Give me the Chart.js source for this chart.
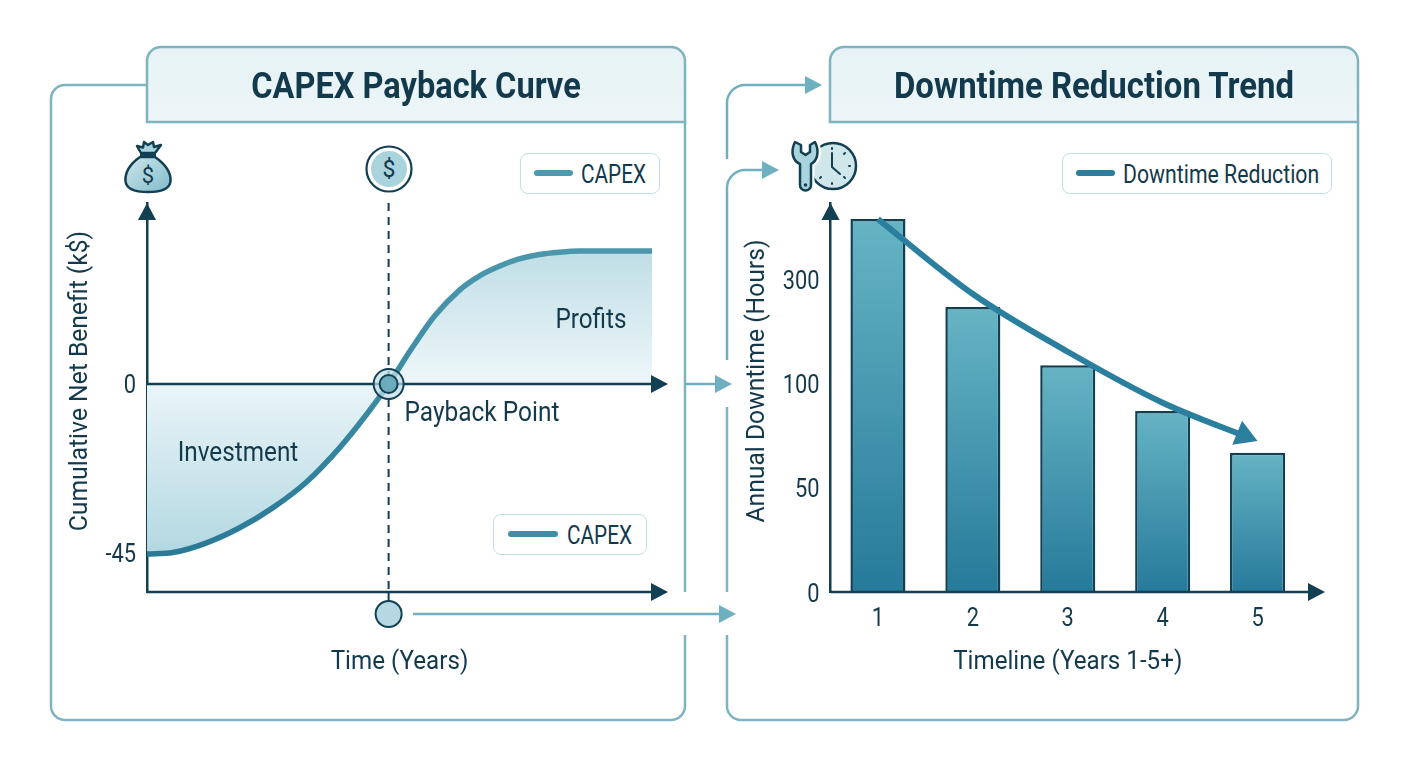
<!DOCTYPE html>
<html><head><meta charset="utf-8">
<script src="https://cdn.jsdelivr.net/npm/chart.js@4/dist/chart.umd.js"></script>
<style>
html,body{margin:0;padding:0;background:#fff;width:1408px;height:768px;overflow:hidden}
#stage{position:relative;width:1408px;height:768px;font-family:Roboto,sans-serif;color:#12394c}
svg,canvas{position:absolute;left:0;top:0}
.t{position:absolute;white-space:nowrap;transform:translate(-50%,-50%) scaleX(var(--sx,.9))}
.title{font-weight:700;font-size:37px;--sx:.88}
.note{font-size:27px}
.leg{position:absolute;box-sizing:border-box;height:41px;background:#fff;border:1.5px solid #c3dee4;border-radius:8px}
.leg i{position:absolute;top:16px;height:6px;border-radius:3px}
.leg span{position:absolute;top:50%;transform:translateY(-50%) scaleX(var(--sx,.83));transform-origin:left center;font-size:25px;white-space:nowrap}
</style></head><body><div id="stage">
<svg width="1408" height="768" viewBox="0 0 1408 768" fill="none">
 <defs>
  <linearGradient id="hd" x1="0" y1="0" x2="0" y2="1"><stop offset="0" stop-color="#e6f2f5"/><stop offset="1" stop-color="#edf6f8"/></linearGradient>
  <linearGradient id="bag" x1="0" y1="0" x2="1" y2="1"><stop offset="0" stop-color="#cfe6eb"/><stop offset="1" stop-color="#7fbccb"/></linearGradient>
 </defs>
 <g stroke="#7eb3bf" stroke-width="2.500">
  <path d="M147 85H65a14 14 0 0 0-14 14V706a14 14 0 0 0 14 14H671a14 14 0 0 0 14-14V635M685 592V122"/>
  <path d="M147 122V61a14 14 0 0 1 14-14H671a14 14 0 0 1 14 14V122H147Z" fill="url(#hd)"/>
  <path d="M727 407V592M727 635V706a14 14 0 0 0 14 14H1344a14 14 0 0 0 14-14V122"/>
  <path d="M830 122V61a14 14 0 0 1 14-14H1344a14 14 0 0 1 14 14V122H830Z" fill="url(#hd)"/>
 </g>
 <g stroke="#6fb0c0" stroke-width="2.500">
  <path d="M727 159V103a18 18 0 0 1 18-18H806"/>
  <path d="M727 360V188a18 18 0 0 1 18-18H762"/>
  <path d="M685 384H716"/>
  <path d="M413 614H720"/>
 </g>
 <g fill="#6fb0c0">
  <path d="M822 85L805 76V94Z"/><path d="M779 170L762 161V179Z"/><path d="M732 384L715 375V393Z"/><path d="M736 614L719 605V623Z"/>
 </g>
 <!-- money bag -->
 <g stroke="#123f52" stroke-width="2.500" stroke-linejoin="round">
  <path d="M140 157C130 164 125 173 125.500 181C126 189 135 192 148 192C161 192 170 189 170.500 181C171 173 165 164 155 157Z" fill="url(#bag)"/>
  <path d="M141 153L137 146L143 147.500L144 142L148 145L153 142L154 147L161 145L155 153Z" fill="#a9d3dd"/>
  <path d="M140 154.500H156" stroke-width="3"/>
 </g>
 <text x="148" y="183" text-anchor="middle" font-family="Roboto" font-size="22" fill="#12394c">$</text>
 <!-- coin -->
 <circle cx="389" cy="169" r="22.500" fill="#fff" stroke="#123f52" stroke-width="2.200"/>
 <circle cx="389" cy="169" r="18" fill="#a9d3dd"/>
 <text x="389" y="177" text-anchor="middle" font-family="Roboto" font-size="23" fill="#12394c">$</text>
 <!-- clock + wrench -->
 <circle cx="833" cy="166" r="23" fill="#cfe6eb" stroke="#123f52" stroke-width="2.500"/>
 <g stroke="#123f52" stroke-width="2" stroke-linecap="round">
  <path d="M832 153V167L840 174" fill="none"/>
  <path d="M832 148v1M832 183v1M850 166h-1M845 153l-1 1M845 178l-1-1M820 178l1-1"/>
 </g>
 <path d="M795 142C790 152 793 161 800 164V185a5.500 5.500 0 0 0 11 0V164C817 161 820 152 815 142L810 145V152L805.500 155L801 152V145Z" fill="#a9d3dd" stroke="#fff" stroke-width="7" stroke-linejoin="round"/>
 <path d="M795 142C790 152 793 161 800 164V185a5.500 5.500 0 0 0 11 0V164C817 161 820 152 815 142L810 145V152L805.500 155L801 152V145Z" fill="#a9d3dd" stroke="#123f52" stroke-width="2.500" stroke-linejoin="round"/>
 <circle cx="805.500" cy="185" r="1.800" fill="#123f52"/>
</svg>
<canvas id="capexCanvas" width="1408" height="768"></canvas>
<canvas id="downtimeCanvas" width="1408" height="768"></canvas>
<div class="t title" style="left:416px;top:85px">CAPEX Payback Curve</div>
<div class="t title" style="left:1094px;top:85px;--sx:.89">Downtime Reduction Trend</div>
<div class="t note" style="left:238px;top:452px">Investment</div>
<div class="t note" style="left:591px;top:319px">Profits</div>
<div class="t note" style="left:482px;top:412px;--sx:.905">Payback Point</div>
<div class="leg" style="left:520px;top:153px;width:140px"><i style="left:13px;width:39px;background:#4a9bb0"></i><span style="left:60px">CAPEX</span></div>
<div class="leg" style="left:493px;top:514px;width:154px"><i style="left:14px;width:50px;background:#3f8ea6"></i><span style="left:73px">CAPEX</span></div>
<div class="leg" style="left:1062px;top:153px;width:270px"><i style="left:13px;width:39px;background:#2b7f9e"></i><span style="left:60px;--sx:.85">Downtime Reduction</span></div>
</div>
<script>
// ---- CAPEX payback curve
const capexYears   = [0, 0.32, 0.74, 1.15, 1.56, 1.98, 2.39, 2.73, 3.0, 3.3, 3.57, 3.88, 4.13, 4.38, 4.62, 4.87, 5.12, 5.37, 6.27];
const capexBenefit = [-45.3, -44.9, -42.3, -38.3, -33, -26.1, -17, -8, 0, 9.9, 18.1, 25, 28.8, 31.4, 33.3, 34.5, 35.1, 35.4, 35.4];
const capexTicks   = [-45, 0];
const paybackYear  = 3;
const capexYRange  = [-55.4, 48.2];
const capexYearMax = 6.27;
const capexXTitle  = 'Time (Years)';
const capexYTitle  = 'Cumulative Net Benefit (k$)';
// ---- Downtime
const downtimeYears = ['1', '2', '3', '4', '5'];
const downtimeHours = [417, 248, 136, 87, 67];
const trendHours    = [417, 273, 162, 91, 72.6];
const downtimeTicks = [0, 50, 100, 300];
const downtimeMax   = 448;
const downtimeXTitle = 'Timeline (Years 1-5+)';
const downtimeYTitle = 'Annual Downtime (Hours)';

const FONT = 'Roboto, sans-serif';
const INK = '#12394c', AXIS = '#123f52';

// The reference type is a narrow grotesque: draw the library's text slightly condensed
function condense(ctx) {
  const fill = ctx.fillText.bind(ctx);
  ctx.fillText = (t, x, y) => {
    const digits = /^[-\d]+$/.test(t);
    ctx.save(); ctx.translate(x, y + (digits ? 3 : 0)); ctx.scale(digits ? 0.84 : 0.93, 1); fill(t, 0, 0); ctx.restore();
  };
}

// Axis whose listed ticks are evenly spaced, as on the printed axis
class TickStepScale extends Chart.LinearScale {
  rank(v) {
    const t = downtimeTicks;
    for (let i = 1; i < t.length; i++) if (v <= t[i]) return i - 1 + (v - t[i-1]) / (t[i] - t[i-1]);
    const n = t.length - 1;
    return n + (v - t[n]) / (t[n] - t[n-1]);
  }
  getPixelForValue(v) { return this.bottom - this.rank(v) / this.rank(this.max) * (this.bottom - this.top); }
  getValueForPixel(p) {
    const r = (this.bottom - p) / (this.bottom - this.top) * this.rank(this.max), t = downtimeTicks;
    const i = Math.min(Math.floor(r), t.length - 2);
    return t[i] + (r - i) * (t[i+1] - t[i]);
  }
}
TickStepScale.id = 'tickStep';
TickStepScale.defaults = Chart.LinearScale.defaults;
Chart.register(TickStepScale);

function head(ctx, x, y, ang, len, half, color) {
  ctx.save(); ctx.translate(x, y); ctx.rotate(ang); ctx.fillStyle = color;
  ctx.beginPath(); ctx.moveTo(0, 0); ctx.lineTo(-len, -half); ctx.lineTo(-len, half); ctx.closePath(); ctx.fill(); ctx.restore();
}
function hAxis(ctx, left, right, y) {
  ctx.save(); ctx.strokeStyle = AXIS; ctx.lineWidth = 2.5;
  ctx.beginPath(); ctx.moveTo(left, y); ctx.lineTo(right - 8, y); ctx.stroke(); ctx.restore();
  head(ctx, right, y, 0, 17, 9, AXIS);
}
function yTitle(chart, text, x, y) {
  const ctx = chart.ctx;
  ctx.save(); ctx.translate(x, y); ctx.rotate(-Math.PI / 2);
  ctx.font = '26.5px ' + FONT; ctx.fillStyle = INK; ctx.textAlign = 'center'; ctx.textBaseline = 'middle';
  ctx.fillText(text, 0, 0); ctx.restore();
}

// ------- left chart
const cEl = document.getElementById('capexCanvas');
const cCtx = cEl.getContext('2d');
condense(cCtx);
const gradAbove = cCtx.createLinearGradient(0, 251, 0, 384);
gradAbove.addColorStop(0, '#bfdee6'); gradAbove.addColorStop(1, '#eef7f9');
const gradBelow = cCtx.createLinearGradient(0, 384, 0, 553);
gradBelow.addColorStop(0, '#eaf5f8'); gradBelow.addColorStop(1, '#b3d8e2');
const curveStroke = cCtx.createLinearGradient(0, 251, 0, 553);
curveStroke.addColorStop(0, '#4b98ad'); curveStroke.addColorStop(1, '#2a7a96');

const CURVE_INDEX = 2;
const capexDecor = {
  id: 'capexDecor',
  afterDatasetDraw(chart, args) {
    if (args.index !== CURVE_INDEX) return;
    const {ctx, chartArea: a, scales: {y}} = chart;
    hAxis(ctx, a.left, a.right + 16, y.getPixelForValue(0));
    hAxis(ctx, a.left, a.right + 16, a.bottom);
  },
  afterDraw(chart) {
    const {ctx, chartArea: a, scales: {x}} = chart;
    head(ctx, a.left, a.top, -Math.PI / 2, 17, 9, AXIS);
    yTitle(chart, capexYTitle, 80, 381);
    const px = x.getPixelForValue(paybackYear);
    ctx.save(); ctx.strokeStyle = AXIS; ctx.lineWidth = 2;
    ctx.beginPath(); ctx.moveTo(px, a.bottom); ctx.lineTo(px, a.bottom + 9); ctx.stroke();
    ctx.fillStyle = '#b5d8e2'; ctx.beginPath(); ctx.arc(px, a.bottom + 22, 13, 0, Math.PI * 2); ctx.fill(); ctx.stroke(); ctx.restore();
  }
};
new Chart(cCtx, {
  type: 'line',
  plugins: [capexDecor],
  data: { datasets: [
    { label: 'Payback Point', data: [{x: paybackYear, y: 0}], pointRadius: 9, pointBackgroundColor: '#6aabbc', pointBorderColor: AXIS, pointBorderWidth: 2, showLine: false, order: 0, clip: false },
    { label: 'ring', data: [{x: paybackYear, y: 0}], pointRadius: 15, pointBackgroundColor: 'rgba(190,221,229,.75)', pointBorderColor: AXIS, pointBorderWidth: 2, showLine: false, order: 1, clip: false },
    { label: 'CAPEX', data: capexYears.map((x, i) => ({x, y: capexBenefit[i]})), borderColor: curveStroke, borderWidth: 5.5, pointRadius: 0, cubicInterpolationMode: 'monotone',
      fill: {target: {value: 0}, above: gradAbove, below: gradBelow}, order: 3 },
    { label: 'payback line', data: [{x: paybackYear, y: capexYRange[1]}, {x: paybackYear, y: capexYRange[0]}], borderColor: AXIS, borderWidth: 2, borderDash: [8, 6], pointRadius: 0, order: 2 }
  ]},
  options: {
    responsive: false, animation: false, devicePixelRatio: 1,
    layout: {padding: {left: 68, right: 756, top: 203, bottom: 88}},
    plugins: {legend: {display: false}, tooltip: {enabled: false}},
    scales: {
      x: { type: 'linear', min: 0, max: capexYearMax, grid: {display: false}, border: {display: false},
        ticks: {display: false},
        title: {display: true, text: capexXTitle, color: INK, font: {family: FONT, size: 26}, padding: {top: 0, bottom: 2}},
        afterFit(s) { s.height = 88; } },
      y: { min: capexYRange[0], max: capexYRange[1], grid: {display: false}, border: {color: AXIS, width: 2.5},
        afterBuildTicks(s) { s.ticks = capexTicks.map(value => ({value})); },
        ticks: {color: INK, font: {family: FONT, size: 26}, padding: 3},
        afterFit(s) { s.width = 79; } }
    }
  }
});

// ------- right chart
const dEl = document.getElementById('downtimeCanvas');
const dCtx = dEl.getContext('2d');
condense(dCtx);
const downtimeDecor = {
  id: 'downtimeDecor',
  beforeDatasetDraw(chart, args) {
    if (args.index !== 1) return;
    const pts = chart.getDatasetMeta(1).data, l = pts[pts.length - 1];
    chart.ctx.save(); chart.ctx.beginPath();
    chart.ctx.rect(0, 0, l.x - 8, 768); chart.ctx.clip();
  },
  afterDatasetDraw(chart, args) { if (args.index === 1) chart.ctx.restore(); },
  afterDatasetsDraw(chart) {
    const {ctx, chartArea: a} = chart;
    hAxis(ctx, a.left, 1325, a.bottom);
    head(ctx, a.left, a.top, -Math.PI / 2, 17, 9, AXIS);
    const pts = chart.getDatasetMeta(1).data, l = pts[pts.length - 1];
    const ang = Math.atan2(l.y - l.cp1y, l.x - l.cp1x);
    head(ctx, l.x, l.y, ang, 22, 13, '#2a7f9e');
    yTitle(chart, downtimeYTitle, 757, 381);
  }
};
new Chart(dCtx, {
  data: { labels: downtimeYears, datasets: [
    { type: 'bar', label: 'Annual Downtime', data: downtimeHours, barPercentage: 0.58, categoryPercentage: 1,
      borderColor: AXIS, borderWidth: 2.5, borderSkipped: 'bottom', order: 2,
      backgroundColor(c) {
        const s = c.chart.scales.y;
        if (!s || !c.chart.chartArea || c.raw === undefined) return '#4a9bb0';
        const a = s.getPixelForValue(c.raw), b = s.getPixelForValue(0);
        if (!isFinite(a) || !isFinite(b)) return '#4a9bb0';
        const g = dCtx.createLinearGradient(0, a, 0, b);
        g.addColorStop(0, '#66b4c4'); g.addColorStop(1, '#267a9a'); return g;
      } },
    { type: 'line', label: 'Downtime Reduction', data: trendHours, borderColor: '#2a7f9e', borderWidth: 6, pointRadius: 0, cubicInterpolationMode: 'monotone', order: 1 }
  ]},
  plugins: [downtimeDecor],
  options: {
    responsive: false, animation: false, devicePixelRatio: 1,
    layout: {padding: {left: 745, right: 103, top: 203, bottom: 88}},
    plugins: {legend: {display: false}, tooltip: {enabled: false}},
    scales: {
      x: { grid: {display: false}, border: {display: false},
        ticks: {color: INK, font: {family: FONT, size: 26}, padding: 1, maxRotation: 0},
        title: {display: true, text: downtimeXTitle, color: INK, font: {family: FONT, size: 26}, padding: {top: 0, bottom: 2}},
        afterFit(s) { s.height = 88; } },
      y: { type: 'tickStep', min: 0, max: downtimeMax, grid: {display: false}, border: {color: AXIS, width: 2.5},
        afterBuildTicks(s) { s.ticks = downtimeTicks.map(value => ({value})); },
        ticks: {color: INK, font: {family: FONT, size: 26}, padding: 3},
        afterFit(s) { s.width = 85.5; } }
    }
  }
});
</script>
</body></html>
